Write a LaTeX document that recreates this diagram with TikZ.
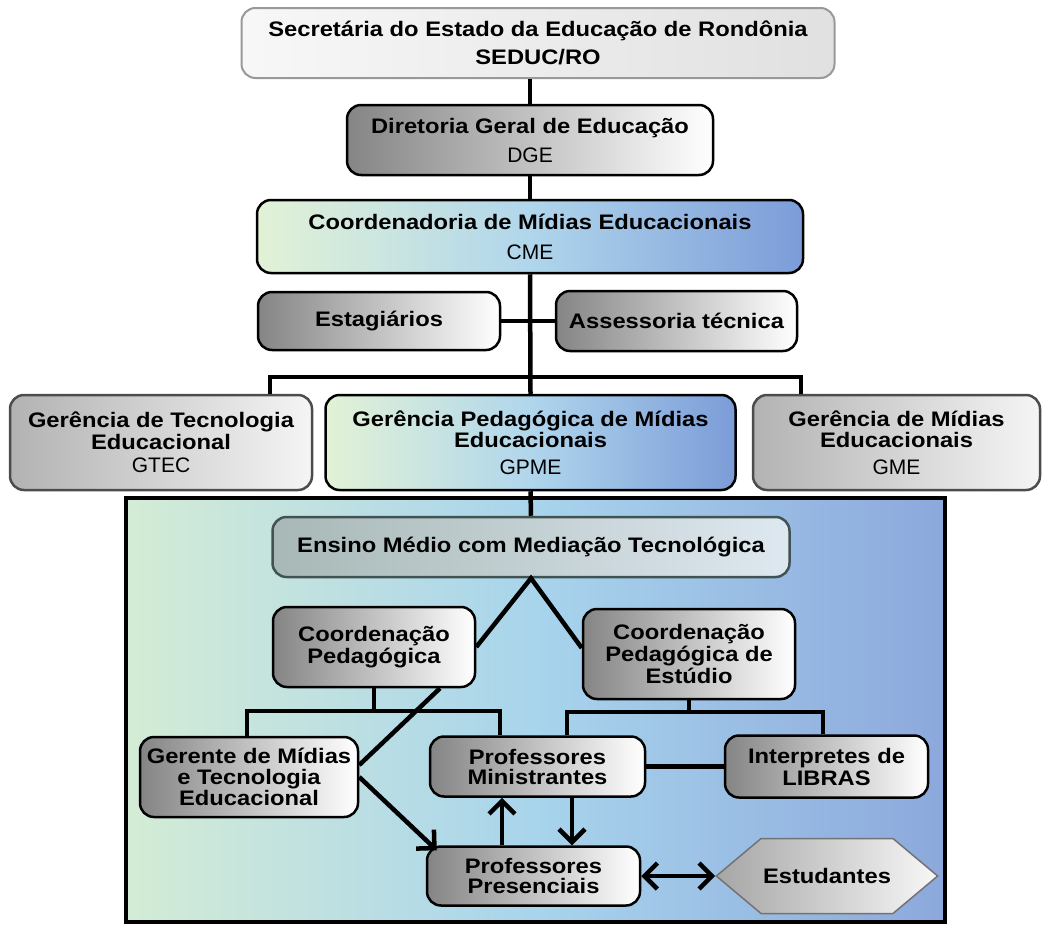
\documentclass[tikz,border=0pt]{standalone}
\usepackage{fontspec}
\usetikzlibrary{arrows.meta,shapes.symbols}

\newfontfamily\caixafont{Liberation Sans}[FakeStretch=1.13]
\newfontfamily\siglafont{Liberation Sans}
\newcommand{\sigla}[1]{{\siglafont\mdseries #1}}

\definecolor{verdeclaro}{RGB}{226,242,214}
\definecolor{azulclaro}{RGB}{176,214,236}
\definecolor{azulforte}{RGB}{124,156,216}
\definecolor{fundoverde}{RGB}{212,236,214}
\definecolor{fundoazul}{RGB}{168,212,236}
\definecolor{fundoforte}{RGB}{140,168,220}
\definecolor{ensinoesq}{RGB}{168,184,182}
\definecolor{ensinodir}{RGB}{222,232,240}
\definecolor{ardosia}{RGB}{64,82,82}

\begin{document}
\begin{tikzpicture}[x=1pt,y=-1pt,
  caixa/.style={draw=black, line width=2.5pt, rounded corners=14pt, align=center, inner sep=2pt,
    font=\caixafont\bfseries\fontsize{21}{22}\selectfont},
  escura/.style={caixa, left color=black!48, right color=white},
  clara/.style={caixa, draw=black!70, left color=black!30, right color=black!4},
  midia/.style={caixa, left color=verdeclaro, right color=azulforte, middle color=azulclaro},
  quadro/.style={draw=black, line width=3.5pt, inner sep=0pt,
    left color=fundoverde, right color=fundoforte, middle color=fundoazul},
  liga/.style={line width=4.5pt},
  ponta/.tip={Straight Barb[length=13pt,width=26pt]},
  seta/.style={liga, -ponta},
]
\useasboundingbox (0,0) rectangle (1043,926);

% Secretaria
\node[caixa, draw=black!40, line width=2pt, left color=black!3, right color=black!12,
  minimum width=593pt, minimum height=70pt] (seduc) at (538,43)
  {Secretária do Estado da Educação de Rondônia\\[6pt]SEDUC/RO};

% Diretoria
\node[escura, minimum width=366pt, minimum height=70pt] (dge) at (530,140)
  {Diretoria Geral de Educação\\[7pt]\sigla{DGE}};

% Coordenadoria
\node[midia, minimum width=546pt, minimum height=73pt] (cme) at (530,236.5)
  {Coordenadoria de Mídias Educacionais\\[8pt]\sigla{CME}};

% Estagiarios e assessoria
\node[escura, minimum width=242pt, minimum height=58pt] (estag) at (379,321) {Estagiários};
\node[escura, minimum width=241pt, minimum height=60pt] (assess) at (676.5,321) {Assessoria técnica};

% Gerencias
\node[clara, minimum width=302pt, minimum height=95pt] (gtec) at (161,442.5)
  {Gerência de Tecnologia\\Educacional\\[1pt]\sigla{GTEC}};
\node[midia, minimum width=410pt, minimum height=95pt] (gpme) at (530.5,442.5)
  {Gerência Pedagógica de Mídias\\[-1pt]Educacionais\\[5pt]\sigla{GPME}};
\node[clara, minimum width=287pt, minimum height=95pt] (gme) at (896.5,442.5)
  {Gerência de Mídias\\[-1pt]Educacionais\\[5pt]\sigla{GME}};

% Quadro do ensino medio
\node[quadro, minimum width=819pt, minimum height=424pt] (quadro) at (535.5,710) {};
\node[caixa, draw=ardosia, left color=ensinoesq, right color=ensinodir,
  minimum width=517pt, minimum height=60pt] (ensino) at (531,547)
  {Ensino Médio com Mediação Tecnológica};

% Coordenacoes
\node[escura, minimum width=202pt, minimum height=80pt] (cped) at (374,647)
  {Coordenação\\Pedagógica};
\node[escura, minimum width=212pt, minimum height=90pt] (cpest) at (689,654)
  {Coordenação\\Pedagógica de\\Estúdio};

% Equipe
\node[escura, minimum width=218pt, minimum height=80pt] (ger) at (249,777)
  {Gerente de Mídias\\[-1pt]e Tecnologia\\[-1pt]Educacional};
\node[escura, minimum width=215pt, minimum height=60pt] (pmin) at (537.5,766.5)
  {Professores\\[-2pt]Ministrantes};
\node[escura, minimum width=203pt, minimum height=62pt] (interp) at (826.5,766.5)
  {Interpretes de\\LIBRAS};
\node[escura, minimum width=213pt, minimum height=59pt] (pres) at (533.5,876)
  {Professores\\[-2pt]Presenciais};
\node[caixa, signal, signal to=west and east, signal pointer angle=80, rounded corners=0pt,
  draw=black!55, line width=1.5pt, left color=black!35, right color=black!3,
  minimum width=190pt, minimum height=75pt] (estud) at (827,876) {Estudantes};

% Ligacoes de cima
\draw[liga] (dge.north) -- (dge.north |- seduc.south);
\draw[liga] (dge.south) -- (cme.north);
\draw[liga] (cme.south) -- (gpme.north);
\draw[liga] (estag.east) -- (assess.west);
\coordinate (barra1) at (270,377);
\coordinate (barra2) at (801,377);
\draw[liga] (gtec.north -| barra1) -- (barra1) -- (barra2) -- (gme.north -| barra2);
\draw[liga] (gpme.south) -- (ensino.north);

% Ligacoes de baixo
\draw[liga] (cped.east) -- (ensino.south) -- ([yshift=6pt]cpest.west);
\coordinate (barra3) at (247,711);
\coordinate (barra4) at (500,711);
\draw[liga] (cped.south) -- (cped.south |- barra3);
\draw[liga] (ger.north -| barra3) -- (barra3) -- (barra4) -- (pmin.north -| barra4);
\coordinate (barra5) at (567,712);
\coordinate (barra6) at (823,712);
\draw[liga] (cpest.south) -- (cpest.south |- barra5);
\draw[liga] (pmin.north -| barra5) -- (barra5) -- (barra6) -- (interp.north -| barra6);
\draw[liga] ([xshift=66pt]cped.south) -- ([yshift=12pt]ger.east);
\draw[liga] (pmin.east) -- (interp.west);

% Setas
\draw[seta] (ger.east) -- ([xshift=11pt,yshift=-5pt]pres.north west);
\draw[seta] (pres.north -| 502,0) -- (pmin.south -| 502,0);
\draw[seta] (pmin.south -| 572,0) -- (pres.north -| 572,0);
\draw[liga, ponta-ponta] (pres.east) -- (estud.west);

\end{tikzpicture}
\end{document}
